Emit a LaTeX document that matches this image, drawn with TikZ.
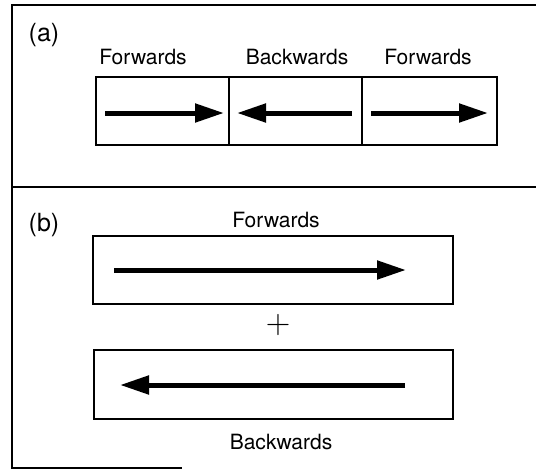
\documentclass[tikz,border=0pt]{standalone}
\usepackage{fontspec}
\setmainfont{TeX Gyre Heros}
\newfontfamily\thinsym{Latin Modern Roman}
\usetikzlibrary{arrows.meta}
\begin{document}
\begin{tikzpicture}[x=1pt,y=-1pt,
  frame/.style={line width=1.4pt},
  cell/.style={draw,line width=1.2pt},
  flow/.style={line width=5pt,-{Triangle[length=29pt,width=18pt]}},
  lbl/.style={font=\fontsize{21}{24}\selectfont},
  tag/.style={font=\fontsize{25}{28}\selectfont}]
\useasboundingbox (0,0) rectangle (536,469);

% outer frame and the divider between the two panels
\coordinate (tl) at (12,5);
\coordinate (tr) at (536,5);
\coordinate (bl) at (12,468);
\coordinate (br) at (182,468);
\coordinate (ml) at (12,187);
\coordinate (mr) at (536,187);
\draw[frame] (tr) -- (tl) -- (bl) -- (br);
\draw[frame] (ml) -- (mr);

% panel (a): three adjoining cells
\node[tag] (ta) at (44,35) {(a)};
\node[lbl] (la1) at (143,57) {Forwards};
\node[lbl] (la2) at (297,57) {Backwards};
\node[lbl] (la3) at (428,57) {Forwards};
\draw[cell] (96,77) rectangle (497,145);
\draw[cell] (229,77) -- (229,145);
\draw[cell] (362,77) -- (362,145);
\coordinate (a1s) at (105,113); \coordinate (a1e) at (224,113);
\coordinate (a2s) at (352,113); \coordinate (a2e) at (237,113);
\coordinate (a3s) at (371,113); \coordinate (a3e) at (488,113);
\draw[flow] (a1s) -- (a1e);
\draw[flow] (a2s) -- (a2e);
\draw[flow] (a3s) -- (a3e);

% panel (b): forward and backward strips added together
\node[tag] (tb) at (44,225) {(b)};
\node[lbl] (lb1) at (276,220) {Forwards};
\draw[cell] (93,236) rectangle (453,304);
\coordinate (b1s) at (114,270); \coordinate (b1e) at (406,270);
\draw[flow] (b1s) -- (b1e);
\node[font=\thinsym\fontsize{34}{34}\selectfont] (plus) at (278,325) {+};
\draw[cell] (94,350) rectangle (453,419);
\coordinate (b2s) at (405,385); \coordinate (b2e) at (120,385);
\draw[flow] (b2s) -- (b2e);
\node[lbl] (lb2) at (281,442) {Backwards};
\end{tikzpicture}
\end{document}
